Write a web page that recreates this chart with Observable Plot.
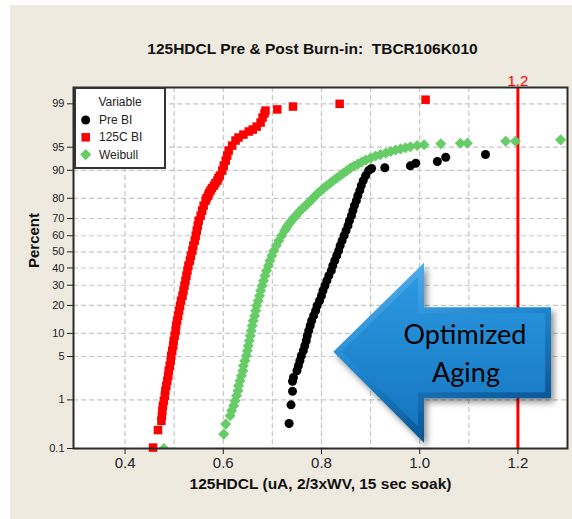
<!DOCTYPE html>
<html><head><meta charset="utf-8">
<script src="https://cdn.jsdelivr.net/npm/d3@7"></script>
<script src="https://cdn.jsdelivr.net/npm/@observablehq/plot@0.6"></script>
<style>
html,body{margin:0;padding:0;background:#fff;}
#panel{position:absolute;left:10px;top:5px;width:562px;height:514px;background:#EEEAE0;overflow:hidden;}
#panel svg{display:block;}
#panel g[aria-label^="y-axis"] text{font-size:11px;}
#panel g[aria-label^="x-axis"] text{font-size:15px;}
</style></head><body><div id="panel"></div>
<script>
// ---------- data ----------
const titleText = "125HDCL Pre & Post Burn-in:\u00a0 TBCR106K010";
const xLabel = "125HDCL (uA, 2/3xWV, 15 sec soak)";
const yLabel = "Percent";
const legendTitle = "Variable";
const seriesNames = ["Pre BI", "125C BI", "Weibull"];
const seriesColors = ["#000000", "#ff0000", "#66cc66"];
const refLine = 1.2;
const xTicks = [0.4, 0.6, 0.8, 1.0, 1.2];
const xGrid = [0.4, 0.5, 0.6, 0.7, 0.8, 0.9, 1.0, 1.1, 1.2];
const yTicks = [0.1, 1, 5, 10, 20, 30, 40, 50, 60, 70, 80, 90, 95, 99];
const xDomain = [0.295, 1.301];
const yDomainPct = [0.1, 99.51];

const preX = [0.734,0.738,0.741,0.741,0.743,0.750,0.753,0.756,0.759,0.763,0.766,0.769,0.771,0.774,0.777,0.780,0.784,0.788,0.791,0.796,0.800,0.803,0.807,0.811,0.815,0.820,0.823,0.827,0.831,0.835,0.838,0.842,0.846,0.850,0.854,0.857,0.861,0.864,0.867,0.871,0.874,0.878,0.881,0.885,0.890,0.896,0.902,0.929,0.981,0.992,1.036,1.053,1.134];
const prePct = [0.35,0.81,1.42,2.10,2.42,3.09,3.67,4.35,5.13,6.01,7.01,8.12,9.38,10.77,12.29,13.96,15.79,17.75,19.87,22.13,24.54,27.09,29.74,32.53,35.42,38.37,41.41,44.51,47.61,50.76,53.90,56.99,60.06,63.05,65.98,68.82,71.54,74.15,76.63,78.96,81.16,83.22,85.11,86.86,88.46,89.92,90.5,90.7,91.17,91.80,92.21,93.14,93.69];

const bi125X = [0.457,0.467,0.474,0.475,0.476,0.477,0.479,0.481,0.482,0.484,0.486,0.488,0.489,0.491,0.493,0.494,0.496,0.498,0.499,0.501,0.503,0.504,0.506,0.508,0.510,0.512,0.514,0.517,0.519,0.521,0.523,0.525,0.527,0.529,0.532,0.534,0.537,0.539,0.542,0.544,0.546,0.548,0.550,0.554,0.557,0.560,0.564,0.566,0.569,0.571,0.574,0.577,0.581,0.584,0.588,0.590,0.593,0.598,0.601,0.605,0.608,0.611,0.618,0.625,0.631,0.641,0.652,0.660,0.668,0.676,0.680,0.684,0.686,0.710,0.742,0.837,1.012];
const bi125Pct = [0.105,0.255,0.397,0.50,0.625,0.778,0.964,1.185,1.45,1.77,2.14,2.58,3.09,3.67,4.35,5.13,6.01,7.01,8.12,9.38,10.77,12.29,13.96,15.79,17.75,19.87,22.13,24.54,27.09,29.74,32.53,35.42,38.37,41.41,44.51,47.61,50.76,53.90,56.99,60.06,63.05,65.98,68.82,71.54,74.15,76.63,78.96,80.08,81.16,82.20,83.22,84.18,85.11,86.00,86.86,87.68,88.46,89.92,91.24,92.42,93.49,94.43,95.25,95.99,96.38,96.73,97.07,97.27,97.55,97.89,98.26,98.52,98.68,98.74,98.88,99.0,99.16];

const weibX = [0.479,0.601,0.605,0.614,0.617,0.621,0.624,0.627,0.630,0.631,0.634,0.637,0.640,0.641,0.644,0.647,0.649,0.651,0.653,0.655,0.657,0.659,0.661,0.664,0.666,0.668,0.671,0.674,0.676,0.679,0.682,0.685,0.688,0.692,0.695,0.699,0.703,0.708,0.713,0.719,0.725,0.728,0.731,0.735,0.739,0.743,0.748,0.752,0.757,0.762,0.768,0.773,0.778,0.783,0.788,0.793,0.799,0.805,0.811,0.818,0.824,0.831,0.838,0.845,0.852,0.859,0.866,0.874,0.882,0.890,0.900,0.910,0.920,0.931,0.941,0.951,0.961,0.971,0.981,0.995,1.009,1.043,1.083,1.097,1.175,1.195,1.287];
const weibPct = [0.1,0.209,0.34,0.50,0.625,0.778,0.964,1.185,1.45,1.77,2.14,2.58,3.09,3.67,4.35,5.13,6.01,7.01,8.12,9.38,10.77,12.29,13.96,15.79,17.75,19.87,22.13,24.54,27.09,29.74,32.53,35.42,38.37,41.41,44.51,47.61,50.76,53.90,56.99,60.06,63.05,64.53,65.98,67.41,68.82,70.19,71.54,72.86,74.15,75.41,76.63,77.82,78.96,80.08,81.16,82.20,83.22,84.18,85.11,86.00,86.86,87.68,88.46,89.21,89.92,90.60,91.12,91.61,92.09,92.54,92.97,93.39,93.68,93.97,94.25,94.52,94.72,94.91,95.07,95.26,95.38,95.52,95.61,95.61,95.89,95.89,96.08];

const arrowText = ["Optimized", "Aging"];

// ---------- normal probability scale (probit) ----------
function probit(p){
  const a=[-3.969683028665376e+01,2.209460984245205e+02,-2.759285104469687e+02,1.383577518672690e+02,-3.066479806614716e+01,2.506628277459239e+00];
  const b=[-5.447609879822406e+01,1.615858368580409e+02,-1.556989798598866e+02,6.680131188771972e+01,-1.328068155288572e+01];
  const c=[-7.784894002430293e-03,-3.223964580411365e-01,-2.400758277161838e+00,-2.549732539343734e+00,4.374664141464968e+00,2.938163982698783e+00];
  const d=[7.784695709041462e-03,3.224671290700398e-01,2.445134137142996e+00,3.754408661907416e+00];
  const pl=0.02425, ph=1-pl; let q,r;
  if(p<pl){q=Math.sqrt(-2*Math.log(p));return (((((c[0]*q+c[1])*q+c[2])*q+c[3])*q+c[4])*q+c[5])/((((d[0]*q+d[1])*q+d[2])*q+d[3])*q+1);}
  if(p<=ph){q=p-0.5;r=q*q;return (((((a[0]*r+a[1])*r+a[2])*r+a[3])*r+a[4])*r+a[5])*q/(((((b[0]*r+b[1])*r+b[2])*r+b[3])*r+b[4])*r+1);}
  q=Math.sqrt(-2*Math.log(1-p));return -(((((c[0]*q+c[1])*q+c[2])*q+c[3])*q+c[4])*q+c[5])/((((d[0]*q+d[1])*q+d[2])*q+d[3])*q+1);
}
const z = pct => probit(pct/100);

const symDiamond = d3.symbolDiamond2 || d3.symbolDiamond;
const series = [
  {name: seriesNames[0], color: seriesColors[0], xs: preX, ps: prePct, symbol: d3.symbolCircle, r: 4.5, clip: false},
  {name: seriesNames[1], color: seriesColors[1], xs: bi125X, ps: bi125Pct, symbol: d3.symbolSquare, r: 4.8, clip: false},
  {name: seriesNames[2], color: seriesColors[2], xs: weibX, ps: weibPct, symbol: symDiamond, r: 5, clip: true}
];
series.forEach(s => s.rows = s.xs.map((x,i) => ({x, z: z(s.ps[i])})));

const yTickPos = yTicks.map(z);
const yDomain = yDomainPct.map(z);
const yLab = new Map(yTickPos.map((p,i)=>[p, String(yTicks[i])]));
const gridCol = "#c6c6c6";

const drawOrder = [series[2], series[1], series[0]];

const svg = Plot.plot({
  width: 562, height: 514,
  marginLeft: 63, marginRight: 5, marginTop: 82, marginBottom: 71,
  style: {background: "transparent", fontFamily: "'Liberation Sans', Arial, sans-serif", color: "#222"},
  x: {domain: xDomain, ticks: xTicks, tickFormat: d3.format(".1f"), tickSize: 6, tickPadding: 3, label: null},
  y: {domain: yDomain, ticks: yTickPos, tickFormat: d => yLab.get(d) ?? "", tickSize: 6, tickPadding: 3, label: null},
  marks: [
    Plot.frame({fill: "white", stroke: "none"}),
    Plot.ruleX(xGrid, {stroke: gridCol, strokeWidth: 1.2, strokeDasharray: "5,3"}),
    Plot.ruleY(yTickPos.slice(1), {stroke: gridCol, strokeWidth: 1.2, strokeDasharray: "5,3"}),
    Plot.ruleX([refLine], {y1: yDomain[0], y2: yDomain[1], stroke: "#ff0000", strokeWidth: 3}),
    ...drawOrder.map(s => Plot.dot(s.rows, {x: "x", y: "z", fill: s.color, stroke: "none", r: s.r, symbol: s.symbol, clip: s.clip})),
    Plot.frame({stroke: "#2a2a2a", strokeWidth: 2}),
    Plot.text([titleText], {text: d => d, frameAnchor: "top", dy: -45, dx: -8, fontSize: 15.5, fontWeight: "bold", fill: "#111"}),
    Plot.text([xLabel], {text: d => d, frameAnchor: "bottom", dy: 40, fontSize: 15.5, fontWeight: "bold", fill: "#111"}),
    Plot.text([yLabel], {text: d => d, frameAnchor: "left", dx: -39, rotate: -90, fontSize: 15, fontWeight: "bold", fill: "#111"}),
    Plot.text([refLine], {x: d => d, text: d => d.toFixed(1), frameAnchor: "top", dy: -2, lineAnchor: "bottom", fontSize: 15, fill: "#ff0000"})
  ]
});
document.getElementById("panel").appendChild(svg);
const s = d3.select(svg);

// ---------- legend ----------
const lg = s.append("g").attr("text-anchor", "start");
lg.append("rect").attr("x", 65).attr("y", 83).attr("width", 90).attr("height", 80)
  .attr("fill", "white").attr("stroke", "#333").attr("stroke-width", 2);
lg.append("text").attr("x", 110).attr("y", 97).attr("text-anchor", "middle")
  .attr("dominant-baseline", "central").attr("font-size", 12).attr("fill", "#222").text(legendTitle);
series.forEach((sr, i) => {
  const cy = 115 + i * 17.3;
  lg.append("path").attr("transform", `translate(75.7,${cy})`)
    .attr("d", d3.symbol(sr.symbol, Math.PI * sr.r * sr.r)()).attr("fill", sr.color);
  lg.append("text").attr("x", 89).attr("y", cy).attr("text-anchor", "start").attr("dominant-baseline", "central")
    .attr("font-size", 12).attr("fill", "#222").text(sr.name);
});

// ---------- "Optimized Aging" arrow annotation ----------
const defs = s.append("defs");
const g1 = defs.append("linearGradient").attr("id", "arrBevel").attr("x1", 0).attr("y1", 0).attr("x2", 0.4).attr("y2", 1);
g1.append("stop").attr("offset", "0%").attr("stop-color", "#5cb8f2");
g1.append("stop").attr("offset", "55%").attr("stop-color", "#1f86cf");
g1.append("stop").attr("offset", "100%").attr("stop-color", "#0b5594");
const g2 = defs.append("linearGradient").attr("id", "arrFace").attr("x1", 0).attr("y1", 0).attr("x2", 0).attr("y2", 1);
g2.append("stop").attr("offset", "0%").attr("stop-color", "#2b98e0");
g2.append("stop").attr("offset", "100%").attr("stop-color", "#1676c2");
const f = defs.append("filter").attr("id", "arrShadow").attr("x", "-20%").attr("y", "-20%").attr("width", "150%").attr("height", "150%");
f.append("feDropShadow").attr("dx", 3).attr("dy", 4).attr("stdDeviation", 3).attr("flood-color", "#000").attr("flood-opacity", 0.45);

const outer = [[323.3,346.7],[414,257.7],[414,302.3],[541,302.3],[541,393.3],[414,393.3],[414,437.7]];
const inner = [[331.8,346.7],[408,272.1],[408,308.3],[535,308.3],[535,387.3],[408,387.3],[408,421.3]];
const ag = s.append("g");
ag.append("path").attr("d", "M" + outer.join("L") + "Z").attr("fill", "url(#arrBevel)").attr("filter", "url(#arrShadow)");
ag.append("path").attr("d", "M" + inner.join("L") + "Z").attr("fill", "url(#arrFace)");
ag.append("text").attr("x", 455).attr("y", 339).attr("text-anchor", "middle")
  .attr("font-family", "Lato, 'Open Sans', sans-serif").attr("font-size", 27).attr("fill", "#000").text(arrowText[0]);
ag.append("text").attr("x", 456).attr("y", 376.7).attr("text-anchor", "middle")
  .attr("font-family", "Lato, 'Open Sans', sans-serif").attr("font-size", 27).attr("fill", "#000").text(arrowText[1]);
</script></body></html>
